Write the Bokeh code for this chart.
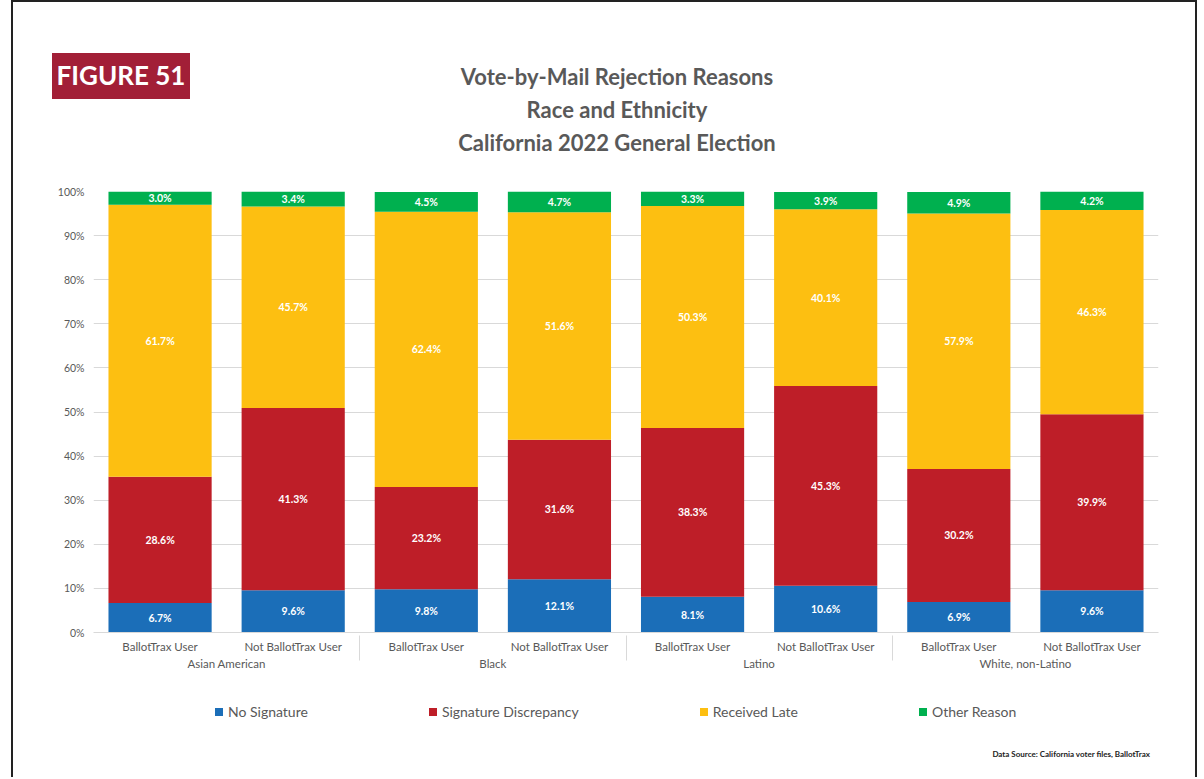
from bokeh.plotting import figure
from bokeh.layouts import column
from bokeh.models import (ColumnDataSource, FactorRange, Range1d, FixedTicker, PrintfTickFormatter, Div)
from bokeh.core.properties import value
from bokeh.embed import file_html
from bokeh.resources import INLINE

groups = ["Asian American", "Black", "Latino", "White, non-Latino"]
users = ["BallotTrax User", "Not BallotTrax User"]
reasons = ["No Signature", "Signature Discrepancy", "Received Late", "Other Reason"]

no_signature = [6.7, 9.6, 9.8, 12.1, 8.1, 10.6, 6.9, 9.6]
signature_discrepancy = [28.6, 41.3, 23.2, 31.6, 38.3, 45.3, 30.2, 39.9]
received_late = [61.7, 45.7, 62.4, 51.6, 50.3, 40.1, 57.9, 46.3]
other_reason = [3.0, 3.4, 4.5, 4.7, 3.3, 3.9, 4.9, 4.2]

title_lines = ["Vote-by-Mail Rejection Reasons", "Race and Ethnicity", "California 2022 General Election"]
figure_tag = "FIGURE 51"
source_note = "Data Source: California voter files, BallotTrax"

colors = ["#1b6eb8", "#be1e28", "#fdbf11", "#00b04f"]
FONT = "Lato"
GREY = "#595959"
W = 1182

# ---------------- header (HTML) ----------------
parts = ['<div style="position:relative;width:%dpx;height:168px;background:white;font-family:%s;">' % (W, FONT)]
parts.append('<div style="position:absolute;left:39px;top:51px;width:138px;height:46px;'
             'background:#a21f37;color:white;font-weight:bold;font-size:26px;display:flex;'
             'align-items:center;justify-content:center;white-space:nowrap;">%s</div>' % figure_tag)
for line, cy in zip(title_lines, [75, 108, 141]):
    parts.append('<div style="position:absolute;left:604px;top:%dpx;transform:translateX(-50%%);'
                 'white-space:nowrap;line-height:30px;font-size:22px;font-weight:bold;color:%s;">%s</div>'
                 % (cy - 15, GREY, line))
parts.append('</div>')
head = Div(text="".join(parts), width=W, height=168, margin=0)

# ---------------- main chart ----------------
factors = [(g, u) for g in groups for u in users]
series = [no_signature, signature_discrepancy, received_late, other_reason]
data = {"x": factors}
for name, vals in zip(reasons, series):
    data[name] = vals
source = ColumnDataSource(data)

p = figure(x_range=FactorRange(*factors, factor_padding=0, group_padding=0, range_padding=0),
           y_range=Range1d(0, 100), frame_width=1065, frame_height=441,
           output_backend="svg", toolbar_location=None,
           min_border_left=80, min_border_right=37, min_border_top=21, min_border_bottom=52)
p.outline_line_color = None
p.background_fill_color = "white"
p.border_fill_color = "white"

rends = p.vbar_stack(reasons, x="x", width=0.775, color=colors, line_color=None, source=source)

xs, ys, texts = [], [], []
for i, f in enumerate(factors):
    base = 0.0
    for vals in series:
        v = vals[i]
        xs.append(f)
        ys.append(base + v / 2.0)
        texts.append(f"{v:.1f}%")
        base += v
lab_src = ColumnDataSource(dict(x=xs, y=ys, t=texts))
p.text(x="x", y="y", text="t", source=lab_src, text_color="white", text_font=value(FONT),
       text_font_size="10.5px", text_font_style="bold", text_align="center", text_baseline="middle")

p.xgrid.grid_line_color = None
p.ygrid.grid_line_color = "#d9d9d9"
p.ygrid.grid_line_width = 1
p.yaxis.ticker = FixedTicker(ticks=list(range(0, 101, 10)))
p.yaxis.formatter = PrintfTickFormatter(format="%d%%")
p.yaxis.axis_line_color = None
p.yaxis.major_tick_line_color = None
p.yaxis.minor_tick_line_color = None
p.yaxis.major_label_text_font = FONT
p.yaxis.major_label_text_font_size = "10.5px"
p.yaxis.major_label_text_color = GREY
p.yaxis.major_label_standoff = 3

xa = p.xaxis[0]
xa.axis_line_color = "#d9d9d9"
xa.major_tick_line_color = None
xa.minor_tick_line_color = None
xa.major_label_text_font = FONT
xa.major_label_text_font_size = "11.5px"
xa.major_label_text_color = GREY
xa.major_label_standoff = 1
xa.group_text_font = FONT
xa.group_text_font_size = "11.5px"
xa.group_text_color = GREY
xa.group_text_font_style = "normal"
xa.separator_line_color = "#d9d9d9"
xa.separator_line_width = 1

# ---------------- footer (HTML legend + note) ----------------
fp = ['<div style="position:relative;width:%dpx;height:93px;background:white;font-family:%s;">' % (W, FONT)]
fp.append('<div style="position:absolute;left:202px;top:19px;height:18px;display:flex;'
          'align-items:center;gap:121px;white-space:nowrap;">')
for r, c in zip(reasons, colors):
    fp.append('<div style="display:flex;align-items:center;">'
              '<span style="display:inline-block;width:8px;height:8px;background:%s;margin-right:5px;"></span>'
              '<span style="font-size:14px;color:%s;">%s</span></div>' % (c, GREY, r))
fp.append('</div>')
fp.append('<div style="position:absolute;right:%dpx;top:64px;line-height:12px;font-size:8px;'
          'font-weight:bold;color:#222;white-space:nowrap;">%s</div>' % (W - 1137, source_note))
fp.append('</div>')
foot = Div(text="".join(fp), width=W, height=93, margin=0)

layout = column(head, p, foot, spacing=0,
                styles={"margin-left": "11px", "border-left": "2px solid #222",
                        "border-right": "2px solid #222", "border-top": "2px solid #222"})

open("out.html", "w").write(file_html(layout, INLINE))
